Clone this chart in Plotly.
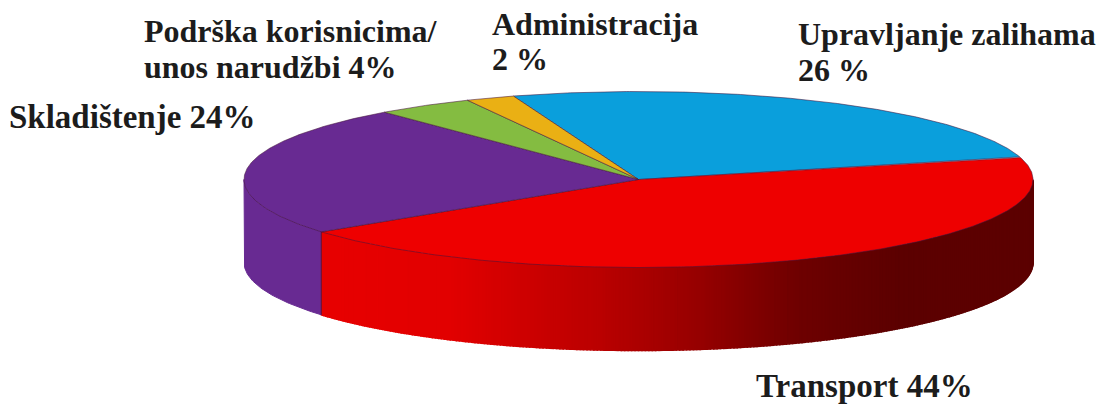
import numpy as np
import plotly.graph_objects as go

categories = ["Upravljanje zalihama", "Transport", "Skladištenje", "Podrška korisnicima/unos narudžbi", "Administracija"]
values = [26, 44, 24, 4, 2]
top_colors = ["#0a9fdc", "#ee0000", "#682a92", "#84bc41", "#eab014"]
label_lines = [
    ["Upravljanje zalihama", "26 %"],
    ["Transport 44%"],
    ["Skladištenje 24%"],
    ["Podrška korisnicima/", "unos narudžbi 4%"],
    ["Administracija", "2 %"],
]
label_pos = [(797, [34, 70]), (755, [385.5]), (8, [117]), (143, [31, 67]), (491, [24, 59])]
label_sizes = [32, 33, 33, 32, 32]

W, H = 1109, 405
CX, CY, RX, RY, DEPTH = 638.5, 179.5, 394.5, 88, 83
START = 108.5

ramp_x = [322, 450, 600, 700, 800, 900, 1040]
ramp_r = [232, 226, 186, 150, 110, 92, 92]


def px(t):
    return CX + RX * np.cos(np.radians(t))


def py(t):
    return CY - RY * np.sin(np.radians(t))


edges = START - np.cumsum([0] + values) * 3.6
fig = go.Figure()

# side walls: only the front half of the rim (angles 0 to -180) is visible
for i, v in enumerate(values):
    a, b = min(edges[i], 0.0), max(edges[i + 1], -180.0)
    if a <= b:
        continue
    if categories[i] == "Transport":
        ts = np.append(np.arange(a, b, -0.5), b)
        for t0, t1 in zip(ts[:-1], ts[1:]):
            r = int(np.interp(px((t0 + t1) / 2), ramp_x, ramp_r))
            col = f"rgb({r},0,0)"
            xs = [px(t0), px(t1), px(t1), px(t0), px(t0)]
            ys = [py(t0), py(t1), py(t1) + DEPTH, py(t0) + DEPTH, py(t0)]
            fig.add_trace(go.Scatter(x=xs, y=ys, mode="lines", fill="toself", fillcolor=col,
                                     line=dict(color=col, width=1.5), hoverinfo="skip", showlegend=False))
    else:
        ts = np.linspace(a, b, 60)
        xs = np.concatenate([px(ts), px(ts[::-1]), [px(ts[0])]])
        ys = np.concatenate([py(ts), py(ts[::-1]) + DEPTH, [py(ts[0])]])
        fig.add_trace(go.Scatter(x=xs, y=ys, mode="lines", fill="toself", fillcolor=top_colors[i],
                                 line=dict(color=top_colors[i], width=1), hoverinfo="skip", showlegend=False))

# seam between purple and red walls
seam_t = edges[2]
fig.add_trace(go.Scatter(x=[px(seam_t), px(seam_t)], y=[py(seam_t), py(seam_t) + DEPTH], mode="lines",
                         line=dict(color="#7a1030", width=1.2), hoverinfo="skip", showlegend=False))

# top faces
for i, v in enumerate(values):
    ts = np.linspace(edges[i], edges[i + 1], max(int(v * 8), 12))
    xs = np.concatenate([[CX], px(ts), [CX]])
    ys = np.concatenate([[CY], py(ts), [CY]])
    fig.add_trace(go.Scatter(x=xs, y=ys, mode="lines", fill="toself", fillcolor=top_colors[i],
                             line=dict(color="rgba(70,20,60,0.55)", width=1),
                             name=categories[i], text=f"{categories[i]} {v}%", hoverinfo="text", showlegend=False))

for lines, (lx, lys), fs in zip(label_lines, label_pos, label_sizes):
    for line, ly in zip(lines, lys):
        fig.add_annotation(x=lx, y=ly, text=line, showarrow=False, xanchor="left", yanchor="middle",
                           xshift=-1, font=dict(family="Liberation Serif", size=fs, color="#1c1c1c", weight="bold"))

fig.update_layout(
    width=W, height=H, margin=dict(l=0, r=0, t=0, b=0), paper_bgcolor="white", plot_bgcolor="white",
    xaxis=dict(range=[0, W], visible=False, fixedrange=True),
    yaxis=dict(range=[H, 0], visible=False, fixedrange=True),
)
fig.write_html("out.html", config={"displayModeBar": False},
               post_script="document.body.style.margin='0';document.body.style.overflow='hidden';")
